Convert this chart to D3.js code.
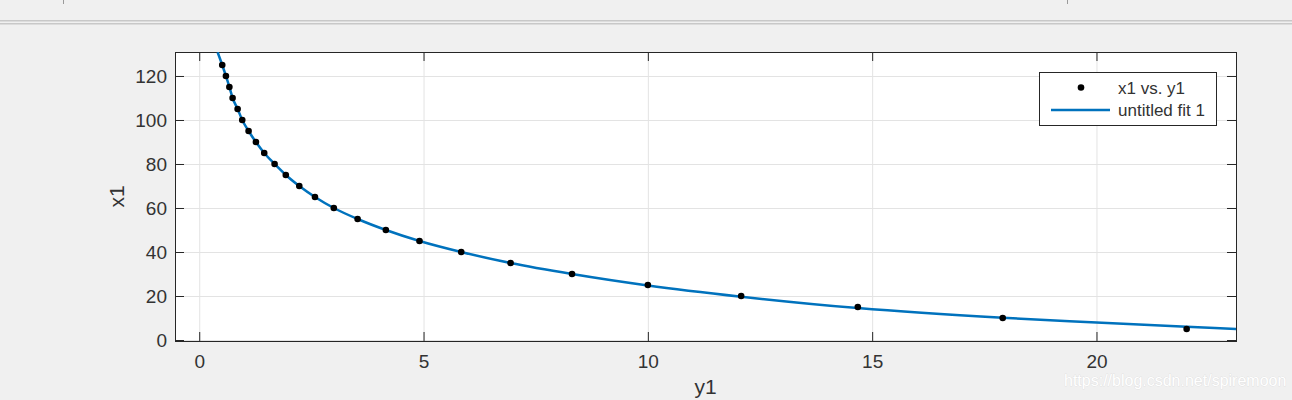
<!DOCTYPE html>
<meta charset="utf-8" />
<style type="text/css">
    body {
        margin: 0;
        background: #f0f0f0;
    }

    text {
        font-family: "Liberation Sans", Arial, sans-serif;
        fill: #333;
    }

    .grid line {
        stroke: #e3e3e3;
        stroke-width: 1;
    }

    .axis path,
    .axis line {
        stroke: #262626;
        stroke-width: 1;
    }

    .axis text {
        font-size: 19px;
        fill: #333;
    }

    .fit {
        fill: none;
        stroke: #0072bd;
        stroke-width: 2.5;
    }

    .dot {
        fill: #000;
    }
</style>

<body>
</body>
<script src="https://d3js.org/d3.v7.min.js"></script>
<script>
    // measured points: x1 (vertical) against y1 (horizontal)
    let x1 = [125, 120, 115, 110, 105, 100, 95, 90, 85, 80, 75, 70, 65, 60, 55, 50, 45, 40, 35, 30, 25, 20, 15, 10, 5];
    let y1 = [0.513, 0.595, 0.672, 0.744, 0.856, 0.959, 1.10, 1.264, 1.449, 1.68, 1.93, 2.23, 2.58, 3.00, 3.53, 4.16, 4.91, 5.84, 6.94, 8.31, 10.0, 12.08, 14.68, 17.91, 22.01];

    // the fitted curve
    let fitY1 = [0.41, 0.513, 0.595, 0.672, 0.744, 0.856, 0.959, 1.10, 1.264, 1.449, 1.68, 1.93, 2.23, 2.58, 3.00, 3.53, 4.16, 4.91, 5.84, 6.94, 8.31, 10.0, 12.08, 14.68, 17.91, 20.0, 22.01, 23.11];
    let fitX1 = [130.8, 125, 120, 115, 110, 105, 100, 95, 90, 85, 80, 75, 70, 65, 60, 55, 50, 45, 40, 35, 30, 24.8, 19.7, 14.5, 10.1, 8.0, 6.05, 5.0];

    let xTicks = [0, 5, 10, 15, 20];
    let yTicks = [0, 20, 40, 60, 80, 100, 120];
    let legendLabels = ["x1 vs. y1", "untitled fit 1"];

    let width = 1292,
        height = 400;
    let box = { left: 175, right: 1236, top: 52, bottom: 341 };

    let svg = d3.select("body").append("svg")
        .attr("width", width)
        .attr("height", height);

    // window chrome above the axes
    svg.append("rect").attr("x", 0).attr("y", 20).attr("width", width).attr("height", 1.5).attr("fill", "#c8c8c8");
    svg.append("rect").attr("x", 0).attr("y", 23).attr("width", width).attr("height", 1.5).attr("fill", "#c8c8c8");
    svg.append("rect").attr("x", 63).attr("y", 0).attr("width", 1).attr("height", 4).attr("fill", "#9a9a9a");
    svg.append("rect").attr("x", 1067).attr("y", 0).attr("width", 1).attr("height", 4).attr("fill", "#9a9a9a");

    let xScale = d3.scaleLinear()
        .domain([-0.54, 23.11])
        .range([box.left, box.right]);

    let yScale = d3.scaleLinear()
        .domain([-0.45, 130.9])
        .range([box.bottom, box.top]);

    svg.append("rect")
        .attr("x", box.left)
        .attr("y", box.top)
        .attr("width", box.right - box.left)
        .attr("height", box.bottom - box.top)
        .attr("fill", "#fff");

    svg.append("clipPath").attr("id", "plot")
        .append("rect")
        .attr("x", box.left)
        .attr("y", box.top)
        .attr("width", box.right - box.left)
        .attr("height", box.bottom - box.top);

    svg.append("g")
        .attr("class", "grid")
        .selectAll("line.v")
        .data(xTicks)
        .enter().append("line")
        .attr("x1", function(d) { return xScale(d) + 0.5; })
        .attr("x2", function(d) { return xScale(d) + 0.5; })
        .attr("y1", box.top)
        .attr("y2", box.bottom);

    svg.select(".grid")
        .selectAll("line.h")
        .data(yTicks)
        .enter().append("line")
        .attr("x1", box.left)
        .attr("x2", box.right)
        .attr("y1", function(d) { return yScale(d) + 0.5; })
        .attr("y2", function(d) { return yScale(d) + 0.5; });

    // inward ticks on all four sides, labels only bottom and left
    svg.append("g")
        .attr("class", "axis")
        .attr("transform", "translate(0," + box.bottom + ")")
        .call(d3.axisBottom(xScale).tickValues(xTicks).tickSize(-9).tickPadding(14).tickSizeOuter(0));

    svg.append("g")
        .attr("class", "axis")
        .attr("transform", "translate(" + box.left + ",0)")
        .call(d3.axisLeft(yScale).tickValues(yTicks).tickSize(-9).tickPadding(8).tickSizeOuter(0));

    svg.append("g")
        .attr("class", "axis")
        .attr("transform", "translate(0," + box.top + ")")
        .call(d3.axisTop(xScale).tickValues(xTicks).tickSize(-9).tickFormat("").tickSizeOuter(0));

    svg.append("g")
        .attr("class", "axis")
        .attr("transform", "translate(" + box.right + ",0)")
        .call(d3.axisRight(yScale).tickValues(yTicks).tickSize(-9).tickFormat("").tickSizeOuter(0));

    svg.selectAll(".axis .domain").remove();
    svg.append("rect")
        .attr("x", box.left + 0.5)
        .attr("y", box.top + 0.5)
        .attr("width", box.right - box.left)
        .attr("height", box.bottom - box.top)
        .attr("fill", "none")
        .attr("stroke", "#262626");

    let fitData = fitY1.map(function(d, i) { return { x: d, y: fitX1[i] }; });
    let line = d3.line()
        .x(function(d) { return xScale(d.x); })
        .y(function(d) { return yScale(d.y); })
        .curve(d3.curveMonotoneX);

    svg.append("g")
        .attr("clip-path", "url(#plot)")
        .append("path")
        .datum(fitData)
        .attr("class", "fit")
        .attr("d", line);

    svg.append("g")
        .selectAll(".dot")
        .data(y1)
        .enter().append("circle")
        .attr("class", "dot")
        .attr("cx", function(d) { return xScale(d); })
        .attr("cy", function(d, i) { return yScale(x1[i]); })
        .attr("r", 3.3);

    svg.append("text")
        .attr("transform", "translate(124," + ((box.top + box.bottom) / 2) + ") rotate(-90)")
        .style("text-anchor", "middle")
        .style("font-size", "21px")
        .text("x1");

    svg.append("text")
        .attr("x", (box.left + box.right) / 2)
        .attr("y", 394)
        .style("text-anchor", "middle")
        .style("font-size", "21px")
        .text("y1");

    // legend
    let legend = svg.append("g");
    legend.append("rect")
        .attr("x", 1039.5)
        .attr("y", 72.5)
        .attr("width", 177)
        .attr("height", 53)
        .attr("fill", "#fff")
        .attr("stroke", "#262626");
    legend.append("circle")
        .attr("cx", 1081)
        .attr("cy", 87.5)
        .attr("r", 3.3)
        .attr("fill", "#000");
    legend.append("line")
        .attr("x1", 1051)
        .attr("x2", 1110)
        .attr("y1", 110)
        .attr("y2", 110)
        .attr("stroke", "#0072bd")
        .attr("stroke-width", 2.5);
    legend.selectAll("text")
        .data(legendLabels)
        .enter().append("text")
        .attr("x", 1118)
        .attr("y", function(d, i) { return 94 + i * 22; })
        .style("font-size", "17px")
        .text(function(d) { return d; });

    svg.append("text")
        .attr("x", 1064)
        .attr("y", 386)
        .style("font-size", "16px")
        .style("fill", "#ffffff")
        .style("stroke", "#d6d6d6")
        .style("stroke-width", "0.5px")
        .style("paint-order", "stroke")
        .text("https://blog.csdn.net/spiremoon");
</script>
